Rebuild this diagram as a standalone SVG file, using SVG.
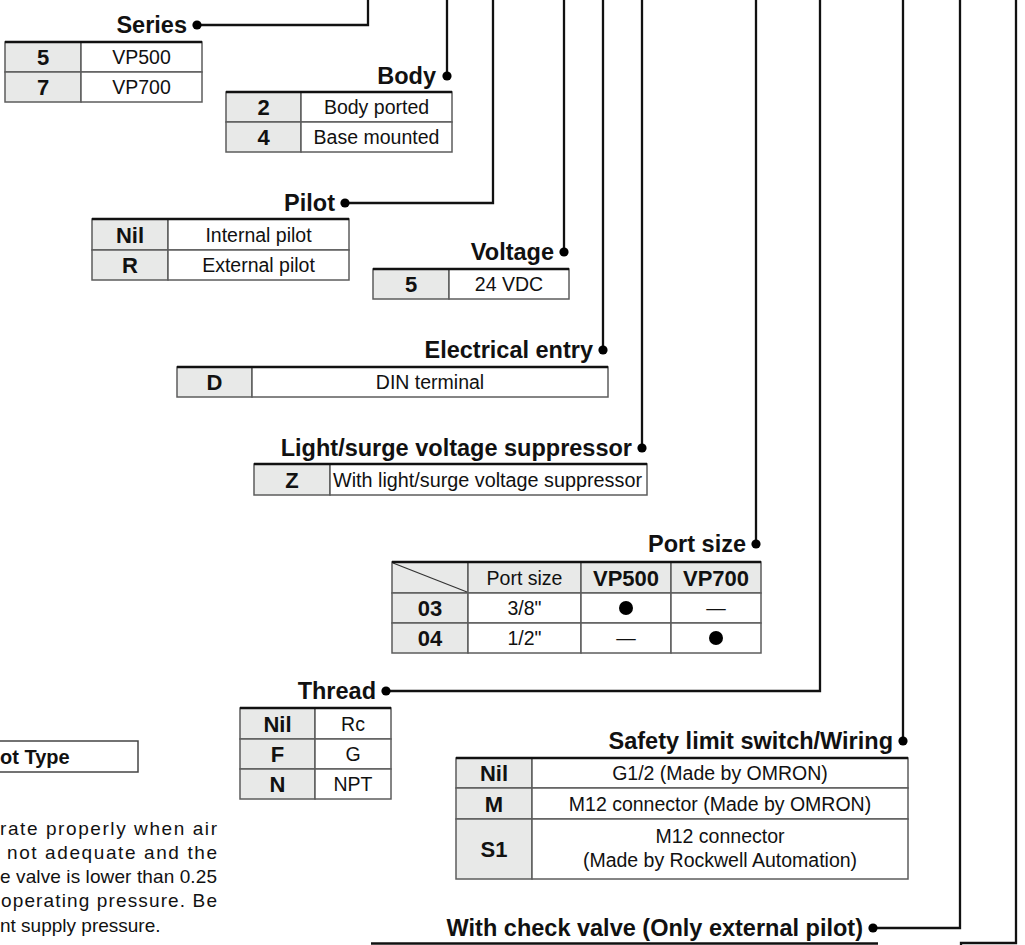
<svg xmlns="http://www.w3.org/2000/svg" width="1025" height="945" viewBox="0 0 1025 945">
<style>
.lbl{font-family:"Liberation Sans",Arial,sans-serif;font-weight:bold;font-size:23.5px;text-anchor:end;fill:#111}
.key{font-family:"Liberation Sans",Arial,sans-serif;font-weight:bold;font-size:22px;text-anchor:middle;fill:#111}
.val{font-family:"Liberation Sans",Arial,sans-serif;font-size:19.5px;text-anchor:middle;fill:#111}
.txt{font-family:"Liberation Sans",Arial,sans-serif;font-size:19px;fill:#111}
.ck{fill:#e8e9e8;stroke:#5c5c5c;stroke-width:1.5}
.cv{fill:#fff;stroke:#5c5c5c;stroke-width:1.5}
.top{stroke:#111;stroke-width:2.6}
.wire{fill:none;stroke:#111;stroke-width:2.3}
.dot{fill:#000}
</style>
<rect width="1025" height="945" fill="#fff"/>
<g id="connectors">
<path class="wire" d="M368,0V25H197"/>
<path class="wire" d="M447,0V76"/>
<path class="wire" d="M493,0V203H345"/>
<path class="wire" d="M564,0V252"/>
<path class="wire" d="M603,0V350"/>
<path class="wire" d="M642,0V448"/>
<path class="wire" d="M756,0V544"/>
<path class="wire" d="M820,0V691H386"/>
<path class="wire" d="M903,0V741"/>
<path class="wire" d="M960,0V928H873"/>
<path class="wire" d="M1016,0V943H961V946"/>
<circle class="dot" cx="197" cy="25" r="4.6"/>
<circle class="dot" cx="447" cy="76" r="4.6"/>
<circle class="dot" cx="345" cy="203" r="4.6"/>
<circle class="dot" cx="564" cy="252" r="4.6"/>
<circle class="dot" cx="603" cy="350" r="4.6"/>
<circle class="dot" cx="642" cy="448" r="4.6"/>
<circle class="dot" cx="756" cy="544" r="4.6"/>
<circle class="dot" cx="386" cy="691" r="4.6"/>
<circle class="dot" cx="903" cy="741" r="4.6"/>
<circle class="dot" cx="873" cy="928" r="4.6"/>
</g>
<g id="series">
<text class="lbl" x="187" y="33">Series</text>
<rect class="ck" x="5" y="42" width="76" height="30"/><rect class="cv" x="81" y="42" width="121" height="30"/>
<rect class="ck" x="5" y="72" width="76" height="30"/><rect class="cv" x="81" y="72" width="121" height="30"/>
<line class="top" x1="5" y1="42" x2="202" y2="42"/>
<text class="key" x="43" y="65">5</text><text class="val" x="141.5" y="64">VP500</text>
<text class="key" x="43" y="95">7</text><text class="val" x="141.5" y="94">VP700</text>
</g>
<g id="body">
<text class="lbl" x="436" y="84">Body</text>
<rect class="ck" x="226" y="92" width="75" height="30"/><rect class="cv" x="301" y="92" width="151" height="30"/>
<rect class="ck" x="226" y="122" width="75" height="30"/><rect class="cv" x="301" y="122" width="151" height="30"/>
<line class="top" x1="226" y1="92" x2="452" y2="92"/>
<text class="key" x="263.5" y="115">2</text><text class="val" x="376.5" y="114">Body ported</text>
<text class="key" x="263.5" y="145">4</text><text class="val" x="376.5" y="144">Base mounted</text>
</g>
<g id="pilot">
<text class="lbl" x="335" y="211">Pilot</text>
<rect class="ck" x="92" y="219" width="76" height="31"/><rect class="cv" x="168" y="219" width="181" height="31"/>
<rect class="ck" x="92" y="250" width="76" height="30"/><rect class="cv" x="168" y="250" width="181" height="30"/>
<line class="top" x1="92" y1="219" x2="349" y2="219"/>
<text class="key" x="130" y="242.5">Nil</text><text class="val" x="258.5" y="241.5">Internal pilot</text>
<text class="key" x="130" y="273">R</text><text class="val" x="258.5" y="272">External pilot</text>
</g>
<g id="voltage">
<text class="lbl" x="554" y="260">Voltage</text>
<rect class="ck" x="373" y="269" width="76" height="30"/><rect class="cv" x="449" y="269" width="120" height="30"/>
<line class="top" x1="373" y1="269" x2="569" y2="269"/>
<text class="key" x="411" y="292">5</text><text class="val" x="509" y="291">24 VDC</text>
</g>
<g id="electrical-entry">
<text class="lbl" x="593" y="358">Electrical entry</text>
<rect class="ck" x="177" y="367" width="75" height="30"/><rect class="cv" x="252" y="367" width="356" height="30"/>
<line class="top" x1="177" y1="367" x2="608" y2="367"/>
<text class="key" x="214.5" y="390">D</text><text class="val" x="430" y="389">DIN terminal</text>
</g>
<g id="light-surge">
<text class="lbl" x="632" y="456">Light/surge voltage suppressor</text>
<rect class="ck" x="254" y="464" width="76" height="31"/><rect class="cv" x="330" y="464" width="317" height="31"/>
<line class="top" x1="254" y1="464" x2="647" y2="464"/>
<text class="key" x="292" y="487.5">Z</text><text class="val" x="333" y="486.5" style="text-anchor:start" textLength="309" lengthAdjust="spacingAndGlyphs">With light/surge voltage suppressor</text>
</g>
<g id="port-size">
<text class="lbl" x="746" y="552">Port size</text>
<rect class="ck" x="392" y="562" width="76" height="31"/><rect class="ck" x="468" y="562" width="113" height="31"/><rect class="ck" x="581" y="562" width="90" height="31"/><rect class="ck" x="671" y="562" width="90" height="31"/>
<rect class="ck" x="392" y="593" width="76" height="30"/><rect class="cv" x="468" y="593" width="113" height="30"/><rect class="cv" x="581" y="593" width="90" height="30"/><rect class="cv" x="671" y="593" width="90" height="30"/>
<rect class="ck" x="392" y="623" width="76" height="30"/><rect class="cv" x="468" y="623" width="113" height="30"/><rect class="cv" x="581" y="623" width="90" height="30"/><rect class="cv" x="671" y="623" width="90" height="30"/>
<line x1="393" y1="563" x2="467" y2="592" stroke="#333" stroke-width="1.2"/>
<line class="top" x1="392" y1="562" x2="761" y2="562"/>
<text class="val" x="524.5" y="584.5">Port size</text><text class="key" x="626" y="585.5">VP500</text><text class="key" x="716" y="585.5">VP700</text>
<text class="key" x="430" y="616">03</text><text class="val" x="524.5" y="615">3/8"</text><circle cx="626" cy="608" r="7" fill="#000"/><text class="val" x="716" y="615">—</text>
<text class="key" x="430" y="646">04</text><text class="val" x="524.5" y="645">1/2"</text><text class="val" x="626" y="645">—</text><circle cx="716" cy="638" r="7" fill="#000"/>
</g>
<g id="thread">
<text class="lbl" x="376" y="699">Thread</text>
<rect class="ck" x="240" y="708" width="75" height="31"/><rect class="cv" x="315" y="708" width="76" height="31"/>
<rect class="ck" x="240" y="739" width="75" height="30"/><rect class="cv" x="315" y="739" width="76" height="30"/>
<rect class="ck" x="240" y="769" width="75" height="30"/><rect class="cv" x="315" y="769" width="76" height="30"/>
<line class="top" x1="240" y1="708" x2="391" y2="708"/>
<text class="key" x="277.5" y="731.5">Nil</text><text class="val" x="353" y="730.5">Rc</text>
<text class="key" x="277.5" y="762">F</text><text class="val" x="353" y="761">G</text>
<text class="key" x="277.5" y="792">N</text><text class="val" x="353" y="791">NPT</text>
</g>
<g id="safety-limit-switch">
<text class="lbl" x="893" y="749">Safety limit switch/Wiring</text>
<rect class="ck" x="456" y="758" width="76" height="30"/><rect class="cv" x="532" y="758" width="376" height="30"/>
<rect class="ck" x="456" y="788" width="76" height="31"/><rect class="cv" x="532" y="788" width="376" height="31"/>
<rect class="ck" x="456" y="819" width="76" height="60"/><rect class="cv" x="532" y="819" width="376" height="60"/>
<line class="top" x1="456" y1="758" x2="908" y2="758"/>
<text class="key" x="494" y="781">Nil</text><text class="val" x="720" y="780">G1/2 (Made by OMRON)</text>
<text class="key" x="494" y="811.5">M</text><text class="val" x="720" y="810.5">M12 connector (Made by OMRON)</text>
<text class="key" x="494" y="857">S1</text><text class="val" x="720" y="843">M12 connector</text><text class="val" x="720" y="867">(Made by Rockwell Automation)</text>
</g>
<g id="check-valve">
<text class="lbl" x="863" y="936">With check valve (Only external pilot)</text>
<line class="top" x1="371" y1="943.5" x2="878" y2="943.5"/>
</g>
<g id="pilot-type-note">
<rect x="-2" y="741" width="140" height="31" fill="#fff" stroke="#444" stroke-width="1.5"/>
<text class="txt" x="0" y="764" style="font-weight:bold;font-size:20px">ot Type</text>
<text class="txt" x="0" y="835" textLength="217" lengthAdjust="spacing">rate properly when air</text>
<text class="txt" x="7" y="859" textLength="210" lengthAdjust="spacing">not adequate and the</text>
<text class="txt" x="0" y="883" textLength="217" lengthAdjust="spacing">e valve is lower than 0.25</text>
<text class="txt" x="1" y="907" textLength="216" lengthAdjust="spacing">operating pressure. Be</text>
<text class="txt" x="0" y="932">nt supply pressure.</text>
</g>
</svg>
